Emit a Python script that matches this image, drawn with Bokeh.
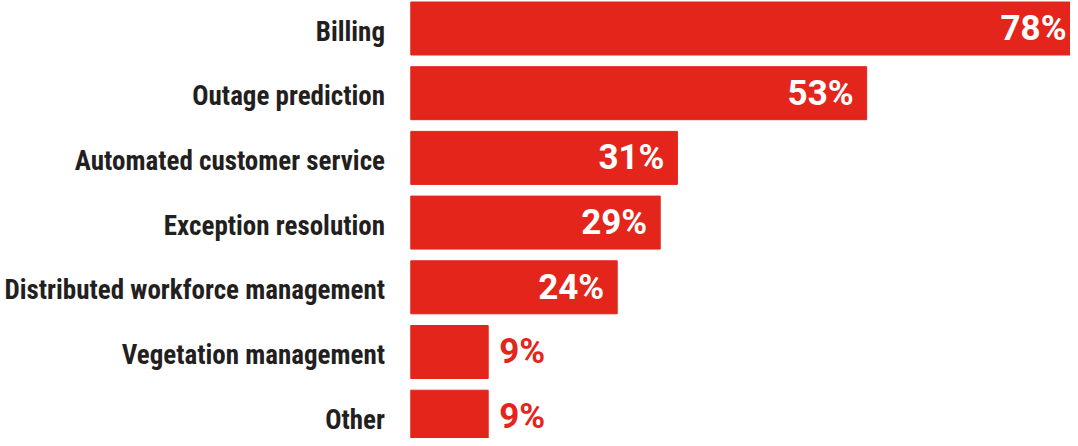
from bokeh.plotting import figure
from bokeh.models import Range1d, ColumnDataSource
from bokeh.core.properties import value
from bokeh.embed import file_html
from bokeh.resources import INLINE

categories = ["Billing", "Outage prediction", "Automated customer service",
              "Exception resolution", "Distributed workforce management",
              "Vegetation management", "Other"]
values = [78, 53, 31, 29, 24, 9, 9]
value_labels = ["78%", "53%", "31%", "29%", "24%", "9%", "9%"]

RED = "#E3251C"
DARK = "#231F20"
LABEL_FONT = "Roboto Condensed, Roboto"
VALUE_FONT = "Roboto"

X_START, X_END = -47.7, 76.7

ypos = list(range(len(categories)))

p = figure(width=1070, height=438, output_backend="svg", toolbar_location=None,
           x_range=Range1d(X_START, X_END), y_range=Range1d(6.337, -0.4328),
           min_border=0, outline_line_color=None)
p.axis.visible = False
p.grid.visible = False

src = ColumnDataSource(dict(y=ypos, v=values, cat=categories, lab=value_labels))
p.hbar(y="y", left=0, right="v", height=0.819, color=RED, source=src)

p.text(x=-3, y="y", text="cat", source=src, text_align="right", text_baseline="middle",
       text_font=value(LABEL_FONT), text_font_style="bold", text_font_size="27px",
       text_color=DARK, y_offset=3)

inside_idx = [i for i, v in enumerate(values) if v >= 15]
outside_idx = [i for i, v in enumerate(values) if v < 15]
# labels of bars that run past the visible edge are anchored at that edge
src_in = ColumnDataSource(dict(
    y=[ypos[i] for i in inside_idx],
    x=[min(values[i], X_END) for i in inside_idx],
    off=[-13 if values[i] < X_END else -4 for i in inside_idx],
    lab=[value_labels[i] for i in inside_idx]))
src_out = ColumnDataSource(dict(y=[ypos[i] for i in outside_idx], v=[values[i] for i in outside_idx],
                                lab=[value_labels[i] for i in outside_idx]))
p.text(x="x", y="y", text="lab", source=src_in, text_align="right", text_baseline="middle",
       text_font=value(VALUE_FONT), text_font_style="bold", text_font_size="35px",
       text_color="white", x_offset="off")
p.text(x="v", y="y", text="lab", source=src_out, text_align="left", text_baseline="middle",
       text_font=value(VALUE_FONT), text_font_style="bold", text_font_size="35px",
       text_color=RED, x_offset=11)

open("out.html", "w").write(file_html(p, INLINE))
